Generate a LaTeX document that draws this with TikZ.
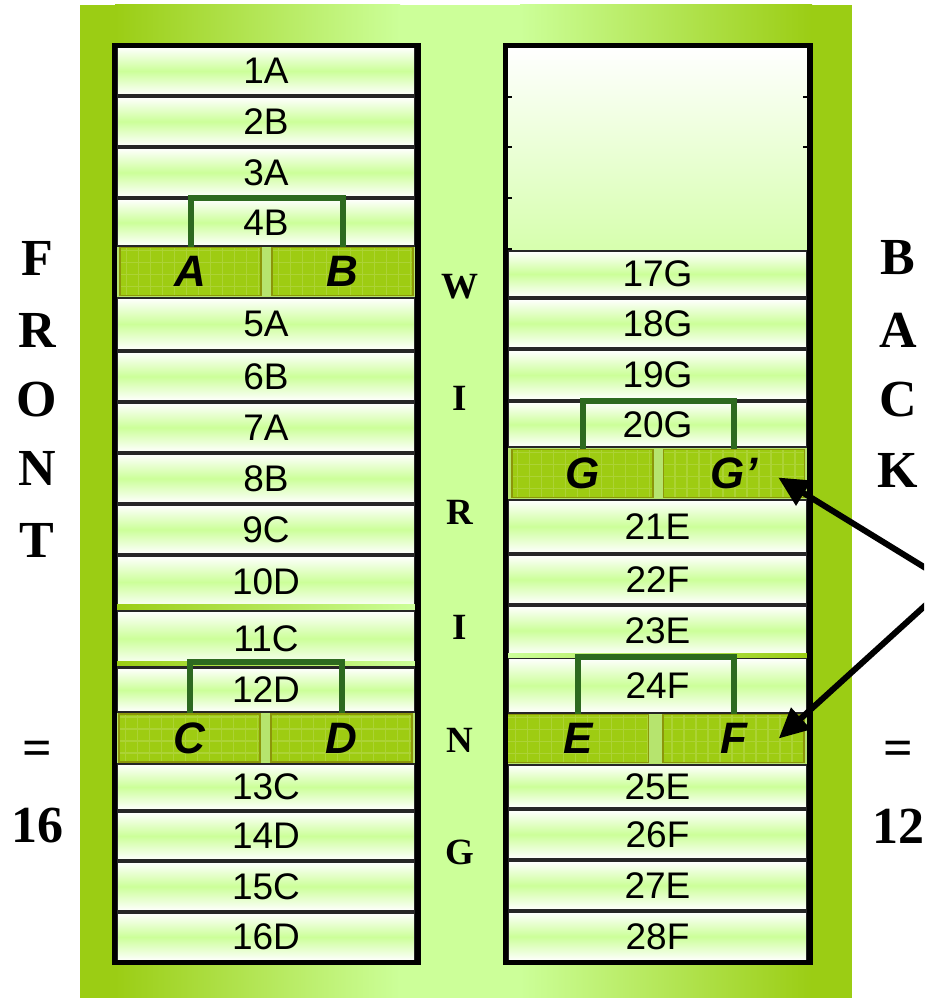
\documentclass[tikz,border=0pt]{standalone}
\usepackage{fontspec}
\setmainfont{Liberation Serif}
\setsansfont{Liberation Sans}
\usetikzlibrary{arrows.meta, calc}
\definecolor{cPanel}{RGB}{155,205,20}
\definecolor{cLight}{RGB}{204,255,153}
\definecolor{cPin}{RGB}{158,204,18}
\definecolor{cPinEdge}{RGB}{140,150,10}
\definecolor{cGap}{RGB}{182,228,110}
\definecolor{cBridge}{RGB}{45,106,31}
\tikzset{
	cell/.style     ={rectangle, draw=black!85, line width=2pt, top color=white, bottom color=white, middle color=cLight, minimum width=298pt, inner sep=0pt, font=\sffamily\fontsize{37}{37}\selectfont},
	pinbar/.style   ={rectangle, fill=cPin, draw=cPinEdge, line width=1.5pt, minimum width=141pt, minimum height=48pt, inner sep=0pt, font=\sffamily\bfseries\itshape\fontsize{44}{44}\selectfont,
		path picture={\draw[white, opacity=0.15, step=12pt] (path picture bounding box.south west) grid (path picture bounding box.north east);}},
	bridge/.style   ={draw=cBridge, line width=6pt},
	frame/.style    ={draw=black, line width=5.5pt},
	pointer/.style  ={-{Triangle[length=30pt, width=28pt]}, line width=6pt},
	% big side captions
	sideletter/.style={font=\bfseries\fontsize{52}{52}\selectfont, inner sep=0pt},
	wireletter/.style={font=\bfseries\fontsize{37}{37}\selectfont, inner sep=0pt},
}

\begin{document}
\begin{tikzpicture}[x=1pt, y=-1pt]
	\clip (0,0) rectangle (924,998);
	% green panel behind both racks
	\fill[cPanel] (80,5) rectangle (116,998);
	\shade[left color=cPanel, right color=cLight] (115,5) rectangle (400,998);
	\fill[cLight] (399,5) rectangle (521,998);
	\shade[left color=cLight, right color=cPanel] (520,5) rectangle (812,998);
	\fill[cPanel] (811,5) rectangle (852,998);

	% front rack
	\foreach \n/\t/\b/\l in {1/47/95/1A, 2/97/146/2B, 3/148/197/3A, 4/199/246/4B, 5/298/350/5A, 6/352/401/6B, 7/403/452/7A, 8/454/503/8B,
		9/505/554/9C, 10/556/608/10D, 11/611/666/11C, 12/668/712/12D, 13/764/810/13C, 14/812/860/14D, 15/862/911/15C, 16/913/961/16D}
		\node[cell, minimum height={\b-\t}] (r\n) at (266,{(\t+\b)/2}) {\l};
	\shade[left color=cPanel, right color=cLight] (117,604) rectangle (415,608);
	\shade[left color=cPanel, right color=cLight] (117,661) rectangle (415,665);
	\fill[cGap] (117,247) rectangle (415,297);
	\fill[cGap] (117,713) rectangle (415,763);
	\node[pinbar] (pA) at (190.5,271.5) {A};
	\node[pinbar] (pB) at (342.5,271.5) {B};
	\node[pinbar] (pC) at (189.5,738) {C};
	\node[pinbar] (pD) at (341.5,738) {D};
	\draw[bridge] (pA.north) -- (pA.north |- r4.north) -| (pB.north);
	\draw[bridge] (pC.north) -- ($(pC.north |- r12.north)+(0,-5)$) -| (pD.north);
	\draw[frame] (114.5,45.5) rectangle (418,962.5);

	% back rack
	\shade[top color=white, bottom color=cLight!80] (508,47) rectangle (807,250);
	\draw[black!35, line width=1pt] (508,250) -- (807,250);
	\foreach \y in {97,147,198,249}
		\draw[line width=1.5pt] (508,\y) -- ++(4,0);
	\foreach \y in {97,147}
		\draw[line width=1.5pt] (807,\y) -- ++(-4,0);
	\foreach \n/\t/\b/\l in {17/251/297/17G, 18/299/348/18G, 19/350/400/19G, 20/402/447/20G, 21/500/553/21E, 22/555/604/22F, 23/606/655/23E,
		24/658/713/24F, 25/765/808/25E, 26/810/859/26F, 27/861/910/27E, 28/912/961/28F}
		\node[cell, minimum width=299pt, minimum height={\b-\t}] (r\n) at (657.5,{(\t+\b)/2}) {\l};
	\shade[left color=cLight, right color=cPanel] (508,653) rectangle (807,657);
	\fill[cGap] (508,448) rectangle (807,499);
	\fill[cGap] (508,714) rectangle (807,764);
	\node[pinbar] (pG) at (582.5,473.5) {G};
	\node[pinbar] (pGp) at (734,473.5) {G’};
	\node[pinbar] (pE) at (578,738.5) {E};
	\node[pinbar] (pF) at (733.5,738.5) {F};
	\draw[bridge] (pG.north) -- (pG.north |- r20.north) -| (pGp.north);
	\draw[bridge] (pE.north) -- (pE.north |- r24.north) -| (pF.north);
	\draw[frame] (505.5,45.5) rectangle (810,962.5);

	% side captions
	\foreach \l/\y [count=\i] in {F/258, R/330, O/400, N/468, T/540, =/753, 16/826}
		\node[sideletter] (front\i) at (37,\y) {\l};
	\foreach \l/\y [count=\i] in {B/258, A/330, C/400, K/470, =/753, 12/826}
		\node[sideletter] (back\i) at (898,\y) {\l};
	\foreach \l/\y [count=\i] in {W/287, I/398, R/512, I/627, N/740, G/852}
		\node[wireletter] (wire\i) at (460,\y) {\l};

	% pointers to the split pins
	\coordinate (src) at (950,583);
	\draw[pointer] (src) -- ($(pGp.east)+(-27,4)$);
	\draw[pointer] (src) -- ($(pF.east)+(-26,0)$);
\end{tikzpicture}
\end{document}
